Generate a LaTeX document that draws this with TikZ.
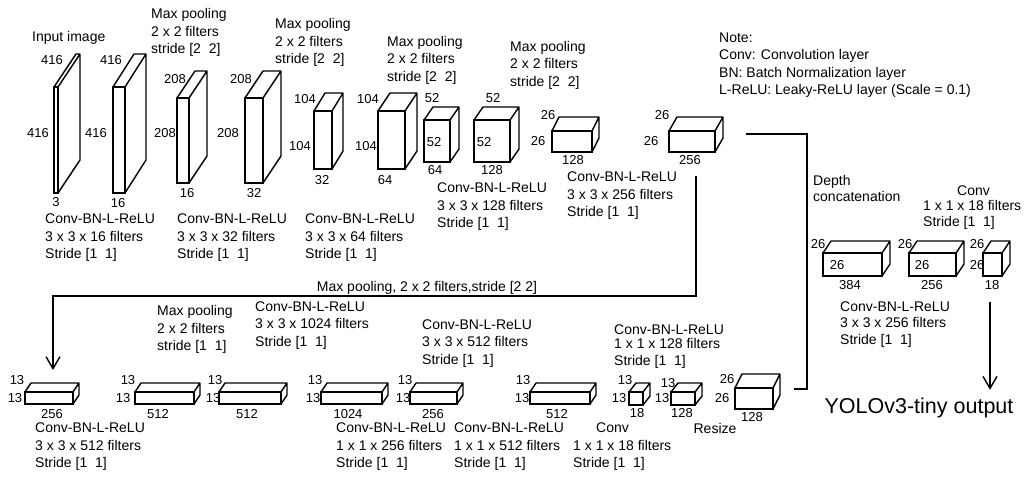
\documentclass[tikz,border=0pt]{standalone}
\usepackage{fontspec}
\setmainfont{Liberation Sans}
\usetikzlibrary{arrows.meta, calc}

\tikzset{
  face/.style={draw, line width=1.4pt, fill=white, inner sep=0pt, outer sep=0pt, anchor=north west},
  edge/.style={line width=1.4pt, line join=round},
  conn/.style={line width=1.4pt},
  dim/.style={font=\fontsize{13}{15}\selectfont, inner sep=0pt},
  info/.style={font=\fontsize{14}{17.5}\selectfont, align=left, anchor=west, inner sep=0pt},
}

% mặt trước là node, hai mặt bên vẽ theo độ sâu (dx, dy)
\newcommand{\layerbox}[7]{%
  \node[face, minimum width=#4pt, minimum height=#5pt] (#1) at (#2,#3) {};
  \draw[edge] (#1.north west) -- ++(#6,-#7) -- ++(#4,0) -- ++(0,#5) -- (#1.south east)
              (#1.north east) -- ++(#6,-#7);
}

\begin{document}
\begin{tikzpicture}[x=1pt, y=-1pt, >={Straight Barb[length=12pt,width=14pt]}]

    \useasboundingbox (0,0) rectangle (1024,484);

    % =================================================================
    % 1. HÀNG TRÊN: 416 -> 26
    % =================================================================
    \layerbox{in}{54}{87}{4}{106}{22}{33}
    \layerbox{c16}{113}{87}{12}{106}{21}{33}
    \layerbox{p16}{177}{98}{12}{85}{18}{27}
    \layerbox{c32}{245}{98}{18}{85}{18}{27}
    \layerbox{p32}{314}{111}{18}{58}{11}{18}
    \layerbox{c64}{378}{111}{27}{58}{12}{18}
    \layerbox{p64}{424}{120}{26}{42}{9}{13}
    \layerbox{c128}{474}{120}{36}{42}{9}{13}
    \layerbox{p128}{552}{131}{40}{21}{7}{14}
    \layerbox{c256}{669}{131}{46}{21}{8}{14}

    % kích thước
    \node[dim] (in-t) at (52,60) {416};   \node[dim] (in-l) at (38,133) {416};   \node[dim] (in-b) at (56,202) {3};
    \node[dim] (c16-t) at (111,60) {416}; \node[dim] (c16-l) at (96,133) {416};  \node[dim] (c16-b) at (118,203) {16};
    \node[dim] (p16-t) at (175,79) {208}; \node[dim] (p16-l) at (165,133) {208}; \node[dim] (p16-b) at (187,193) {16};
    \node[dim] (c32-t) at (241,79) {208}; \node[dim] (c32-l) at (228,133) {208}; \node[dim] (c32-b) at (254,193) {32};
    \node[dim] (p32-t) at (305,99) {104}; \node[dim] (p32-l) at (300,146) {104}; \node[dim] (p32-b) at (322,180) {32};
    \node[dim] (c64-t) at (368,99) {104}; \node[dim] (c64-l) at (366,146) {104}; \node[dim] (c64-b) at (385,180) {64};
    \node[dim] (p64-t) at (432,98) {52};  \node[dim] (p64-l) at (434,142) {52};  \node[dim] (p64-b) at (435,170) {64};
    \node[dim] (c128-t) at (493,98) {52}; \node[dim] (c128-l) at (484,142) {52}; \node[dim] (c128-b) at (492,170) {128};
    \node[dim] (p128-t) at (548,115) {26}; \node[dim] (p128-l) at (538,141) {26}; \node[dim] (p128-b) at (573,160) {128};
    \node[dim] (c256-t) at (662,115) {26}; \node[dim] (c256-l) at (651,141) {26}; \node[dim] (c256-b) at (690,160) {256};

    % chú thích các lớp
    \node[info] (t-in) at (32,38) {Input image};
    \node[info] (t-mp1) at (151,32.5) {Max pooling\\2 x 2 filters\\stride [2~~2]};
    \node[info] (t-mp2) at (275,42.5) {Max pooling\\2 x 2 filters\\stride [2~~2]};
    \node[info] (t-mp3) at (387,60) {Max pooling\\2 x 2 filters\\stride [2~~2]};
    \node[info] (t-mp4) at (510,65) {Max pooling\\2 x 2 filters\\stride [2~~2]};
    \node[info] (t-c16) at (45,238) {Conv-BN-L-ReLU\\3 x 3 x 16 filters\\Stride [1~~1]};
    \node[info] (t-c32) at (177,238) {Conv-BN-L-ReLU\\3 x 3 x 32 filters\\Stride [1~~1]};
    \node[info] (t-c64) at (305,238) {Conv-BN-L-ReLU\\3 x 3 x 64 filters\\Stride [1~~1]};
    \node[info] (t-c128) at (437,207) {Conv-BN-L-ReLU\\3 x 3 x 128 filters\\Stride [1~~1]};
    \node[info] (t-c256) at (567,196) {Conv-BN-L-ReLU\\3 x 3 x 256 filters\\Stride [1~~1]};
    \node[info] (note) at (719,65) {Note:\\Conv: Convolution layer\\BN: Batch Normalization layer\\L-ReLU: Leaky-ReLU layer (Scale = 0.1)};

    % =================================================================
    % 2. HÀNG DƯỚI: 13 x 13 VÀ RESIZE
    % =================================================================
    \layerbox{b256}{25}{392}{48}{12}{6}{9}
    \layerbox{b512a}{135}{392}{59}{12}{6}{9}
    \layerbox{b512b}{219}{392}{62}{12}{6}{9}
    \layerbox{b1024}{321}{392}{61}{12}{6}{9}
    \layerbox{b256b}{410}{392}{47}{12}{6}{9}
    \layerbox{b512c}{530}{392}{60}{12}{6}{9}
    \layerbox{b18}{629}{392}{14}{13}{7}{9}
    \layerbox{b128}{671}{392}{24}{13}{7}{9}
    \layerbox{rs}{735}{388}{38}{21}{7}{14}

    \node[dim] (b256-t) at (17,380) {13};   \node[dim] (b256-l) at (15,398) {13};   \node[dim] (b256-b) at (52,414) {256};
    \node[dim] (b512a-t) at (128,380) {13}; \node[dim] (b512a-l) at (123,398) {13}; \node[dim] (b512a-b) at (158,414) {512};
    \node[dim] (b512b-t) at (215,380) {13}; \node[dim] (b512b-l) at (213,398) {13}; \node[dim] (b512b-b) at (247,414) {512};
    \node[dim] (b1024-t) at (315,380) {13}; \node[dim] (b1024-l) at (313,398) {13}; \node[dim] (b1024-b) at (348,414) {1024};
    \node[dim] (b256b-t) at (405,380) {13}; \node[dim] (b256b-l) at (403,398) {13}; \node[dim] (b256b-b) at (433,414) {256};
    \node[dim] (b512c-t) at (523,380) {13}; \node[dim] (b512c-l) at (522,398) {13}; \node[dim] (b512c-b) at (557,414) {512};
    \node[dim] (b18-t) at (625,380) {13};   \node[dim] (b18-l) at (619,398) {13};   \node[dim] (b18-b) at (637,413) {18};
    \node[dim] (b128-t) at (668,383) {13};  \node[dim] (b128-l) at (662,398) {13};  \node[dim] (b128-b) at (682,413) {128};
    \node[dim] (rs-t) at (727,379) {26};    \node[dim] (rs-l) at (722,398) {26};    \node[dim] (rs-b) at (752,417) {128};
    \node[info, anchor=center] (t-rs) at (715,428) {Resize};

    \node[info] (t-bmp) at (157,329.5) {Max pooling\\2 x 2 filters\\stride [1~~1]};
    \node[info] (t-b1024) at (255,325.5) {Conv-BN-L-ReLU\\3 x 3 x 1024 filters\\Stride [1~~1]};
    \node[info] (t-b512a) at (422,343.5) {Conv-BN-L-ReLU\\3 x 3 x 512 filters\\Stride [1~~1]};
    \node[info] (t-b128) at (614,347) {Conv-BN-L-ReLU\\[-4pt]1 x 1 x 128 filters\\Stride [1~~1]};
    \node[info] (t-b256) at (35,447) {Conv-BN-L-ReLU\\3 x 3 x 512 filters\\Stride [1~~1]};
    \node[info] (t-b256b) at (336,447) {Conv-BN-L-ReLU\\1 x 1 x 256 filters\\Stride [1~~1]};
    \node[info] (t-b512c) at (454,447) {Conv-BN-L-ReLU\\1 x 1 x 512 filters\\Stride [1~~1]};
    \node[info] (t-b18) at (573,447) {\hspace*{23pt}Conv\\1 x 1 x 18 filters\\Stride [1~~1]};

    % =================================================================
    % 3. NHÁNH PHẢI: GHÉP THEO CHIỀU SÂU VÀ ĐẦU RA
    % =================================================================
    \layerbox{r384}{823}{253}{59}{23}{8}{12}
    \layerbox{r256}{909}{253}{47}{23}{8}{12}
    \layerbox{r18}{983}{253}{19}{23}{8}{12}

    \node[dim] (r384-t) at (818,244) {26}; \node[dim] (r384-l) at (837,265) {26}; \node[dim] (r384-b) at (850,285) {384};
    \node[dim] (r256-t) at (905,244) {26}; \node[dim] (r256-l) at (922,265) {26}; \node[dim] (r256-b) at (932,285) {256};
    \node[dim] (r18-t) at (977,244) {26};  \node[dim] (r18-l) at (977,265) {26};  \node[dim] (r18-b) at (992,285) {18};

    \node[info, font=\fontsize{14}{16}\selectfont] (t-cat) at (813,188) {Depth\\concatenation};
    \node[info, font=\fontsize{14}{15.5}\selectfont] (t-r18) at (923,207.5) {\hspace*{34pt}Conv\\1 x 1 x 18 filters\\Stride [1~~1]};
    \node[info, font=\fontsize{14}{16.5}\selectfont] (t-r256) at (840,324.5) {Conv-BN-L-ReLU\\3 x 3 x 256 filters\\Stride [1~~1]};
    \node[inner sep=0pt, font=\fontsize{21.5}{24}\selectfont] (yolo) at (919,408) {YOLOv3-tiny output};

    % =================================================================
    % 4. ĐƯỜNG NỐI
    % =================================================================
    % max pooling 2 x 2 xuống hàng dưới
    \coordinate (mp-out) at (696,176);
    \coordinate (mp-bend) at (696,296);
    \coordinate (mp-in) at (53,370);
    \draw[conn, ->] (mp-out) -- (mp-bend) -| (mp-in);
    \node[info, anchor=center] (t-mp) at (427,288) {Max pooling, 2 x 2 filters,stride [2 2]};

    % ghép 26 x 26 x 256 với nhánh resize
    \coordinate (cat-a) at (746,134);
    \coordinate (cat-b) at (794,389);
    \draw[conn] (cat-a) -| ([xshift=13pt]cat-b) -- (cat-b);

    % đầu ra
    \coordinate (out-a) at (990,302);
    \draw[conn, ->] (out-a) -- ($(out-a |- yolo.north)+(0,-8)$);

\end{tikzpicture}
\end{document}
